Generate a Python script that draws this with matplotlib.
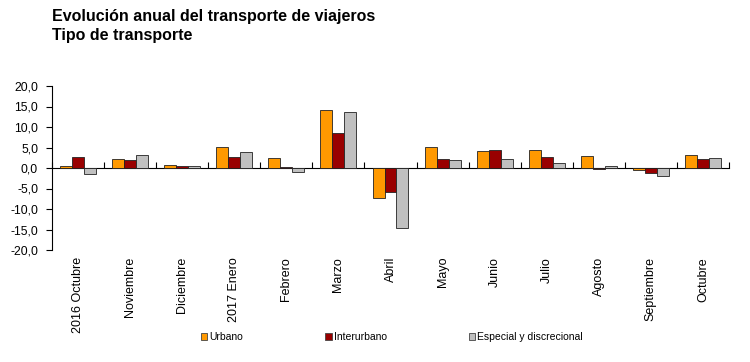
import matplotlib
matplotlib.use("Agg")
import matplotlib.pyplot as plt
import numpy as np
from matplotlib.patches import Patch
from matplotlib.ticker import FuncFormatter

plt.rcParams['font.family'] = ['Liberation Sans', 'DejaVu Sans']

categories = ["2016 Octubre", "Noviembre", "Diciembre", "2017 Enero", "Febrero", "Marzo",
              "Abril", "Mayo", "Junio", "Julio", "Agosto", "Septiembre", "Octubre"]
urbano = [0.4, 2.3, 0.7, 5.1, 2.4, 14.1, -7.3, 5.1, 4.1, 4.5, 3.0, -0.4, 3.2]
interurbano = [2.7, 1.9, 0.5, 2.7, 0.2, 8.6, -5.9, 2.3, 4.3, 2.6, -0.2, -1.2, 2.3]
especial = [-1.5, 3.1, 0.4, 4.0, -0.9, 13.6, -14.6, 1.9, 2.3, 1.3, 0.4, -2.0, 2.4]
series_names = ["Urbano", "Interurbano", "Especial y discrecional"]
colors = ["#FF9900", "#990000", "#C0C0C0"]

fig = plt.figure(figsize=(7.5, 3.62), dpi=100)
ax = fig.add_axes([52/750, 1-250/362, (729-52)/750, (250-86)/362])

x = np.arange(len(categories))
w = 0.23
for k, (vals, c) in enumerate(zip([urbano, interurbano, especial], colors)):
    ax.bar(x + (k-1)*w, vals, width=w, color=c, edgecolor="#222222", linewidth=0.6, zorder=2)

ax.set_xlim(-0.5, len(categories)-0.5)
ax.set_ylim(-20, 20)
ax.set_yticks(np.arange(-20, 21, 5))
ax.yaxis.set_major_formatter(FuncFormatter(lambda v, p: f"{v:.1f}".replace(".", ",")))
ax.tick_params(axis='y', direction='out', length=4, width=0.8, pad=6, labelsize=8.7, colors='black')

for s in ['top', 'right', 'bottom']:
    ax.spines[s].set_visible(False)
ax.spines['left'].set_linewidth(0.8)

ax.set_xticks(x)
ax.set_xticklabels(categories, rotation=90, fontsize=9, va='top', ha='center')
ax.tick_params(axis='x', length=0, pad=5)

sec = ax.secondary_xaxis(0.5)
sec.set_xticks(np.arange(-0.5, len(categories), 1.0))
sec.set_xticklabels([])
sec.tick_params(axis='x', direction='out', length=4, width=0.8)
sec.spines['bottom'].set_linewidth(0.9)

handles = [Patch(facecolor=c, edgecolor="#444444", linewidth=0.6) for c in colors]
fig.legend(handles, series_names, loc='center left', bbox_to_anchor=(201/750, 1-337/362),
           ncol=3, frameon=False, fontsize=7.5, handlelength=0.6, handleheight=0.6,
           handletextpad=0.2, columnspacing=7.9, borderaxespad=0, borderpad=0)

fig.text(52/750, 1-9/362, "Evolución anual del transporte de viajeros\nTipo de transporte",
         fontsize=11.5, fontweight='bold', va='top', ha='left', linespacing=1.3)

fig.savefig("out.png", dpi=100)
